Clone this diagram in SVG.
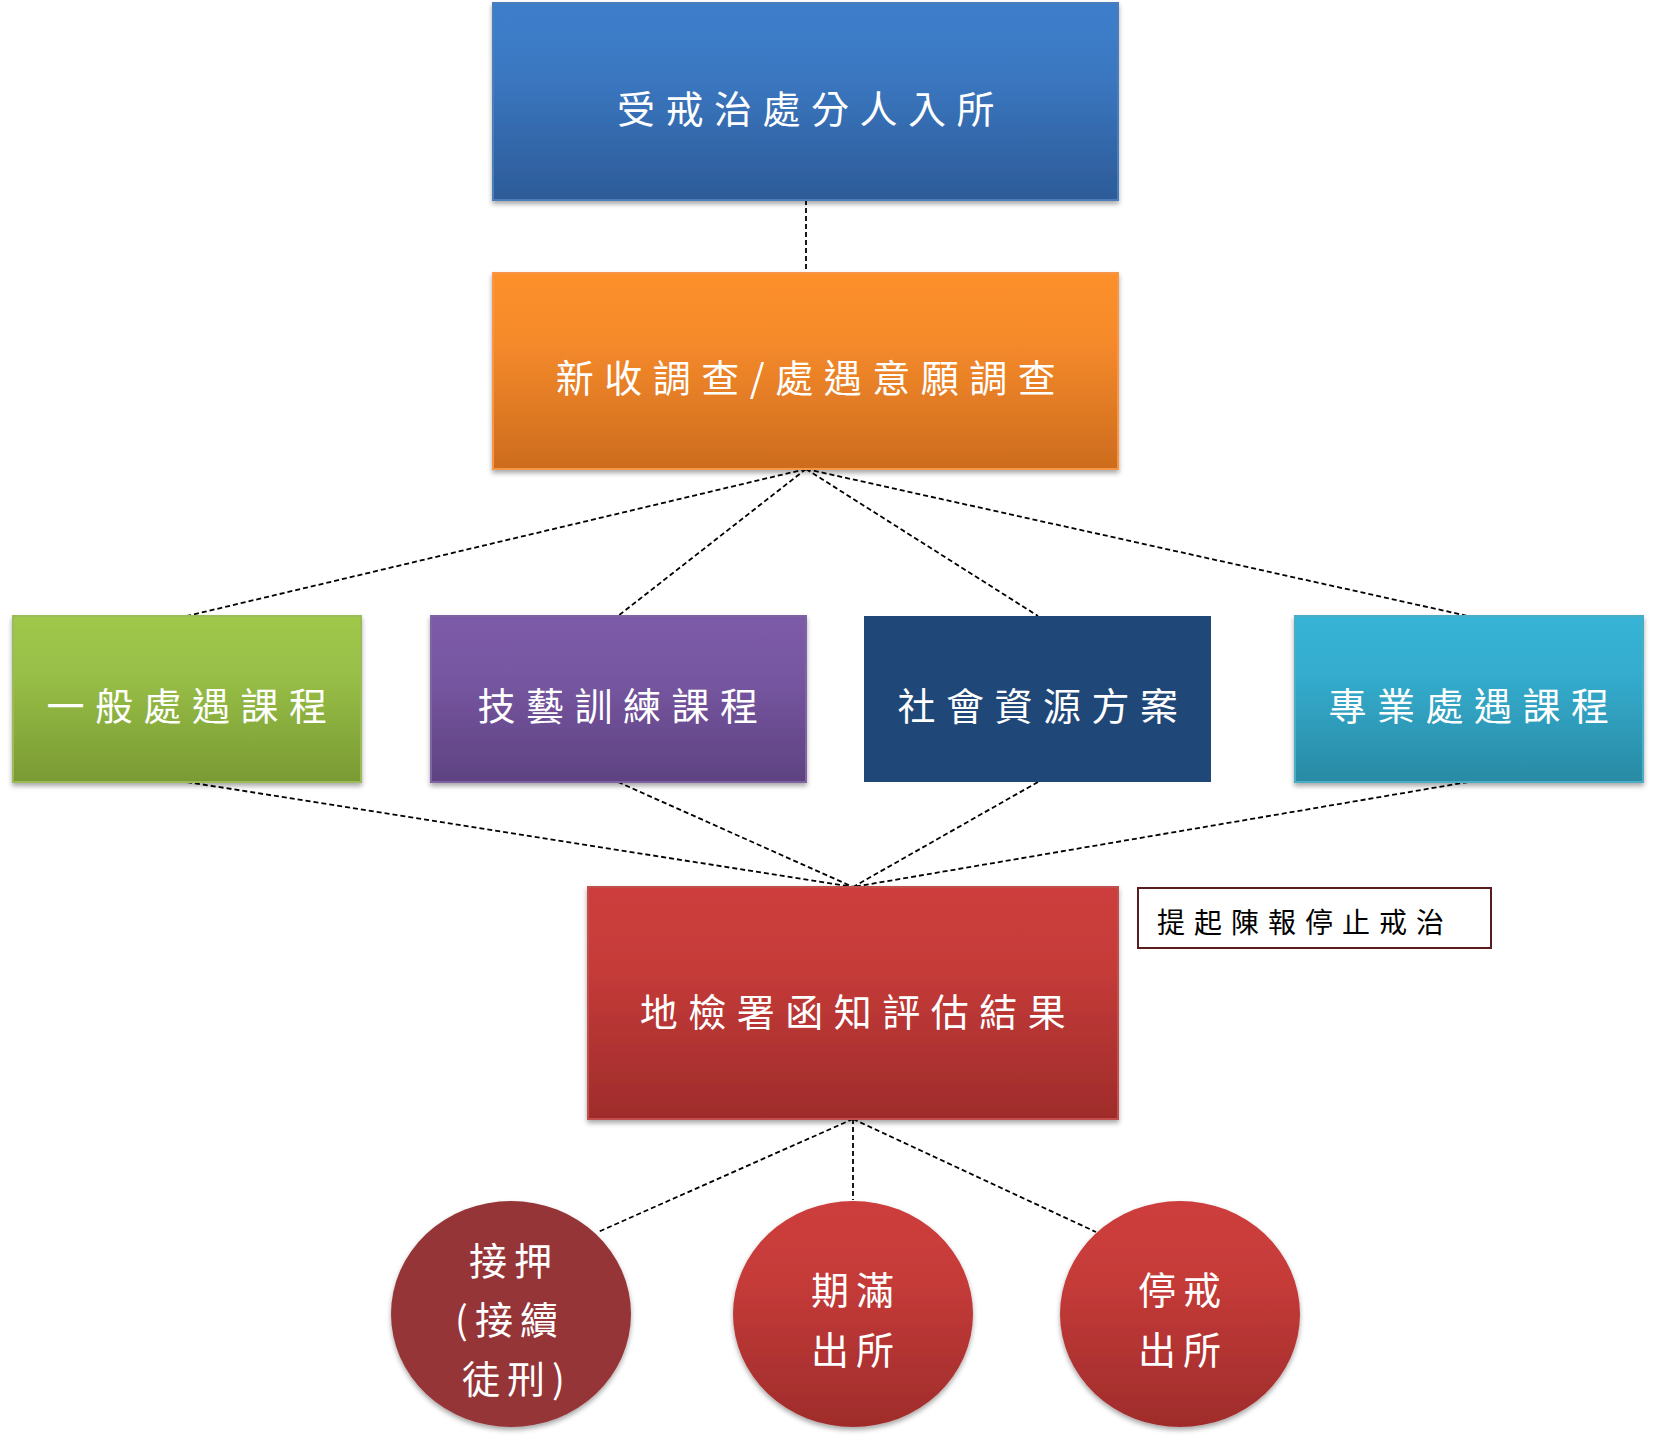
<svg xmlns="http://www.w3.org/2000/svg" width="1657" height="1444" viewBox="0 0 1657 1444">
<defs>
<linearGradient id="gBlue" x1="0" y1="0" x2="0" y2="1"><stop offset="0" stop-color="#3d7ecb"/><stop offset="0.35" stop-color="#3b78c2"/><stop offset="1" stop-color="#2d5b98"/></linearGradient>
<linearGradient id="gOrange" x1="0" y1="0" x2="0" y2="1"><stop offset="0" stop-color="#fd902c"/><stop offset="0.35" stop-color="#f58a2b"/><stop offset="1" stop-color="#cd6c1e"/></linearGradient>
<linearGradient id="gGreen" x1="0" y1="0" x2="0" y2="1"><stop offset="0" stop-color="#9fc84b"/><stop offset="0.35" stop-color="#98bf47"/><stop offset="1" stop-color="#799a33"/></linearGradient>
<linearGradient id="gPurple" x1="0" y1="0" x2="0" y2="1"><stop offset="0" stop-color="#7c5ba8"/><stop offset="0.35" stop-color="#7757a2"/><stop offset="1" stop-color="#5e4281"/></linearGradient>
<linearGradient id="gTeal" x1="0" y1="0" x2="0" y2="1"><stop offset="0" stop-color="#37b4d6"/><stop offset="0.35" stop-color="#34acce"/><stop offset="1" stop-color="#298aa4"/></linearGradient>
<linearGradient id="gRed" x1="0" y1="0" x2="0" y2="1"><stop offset="0" stop-color="#cd3e3c"/><stop offset="0.35" stop-color="#c53b39"/><stop offset="1" stop-color="#9f2c2b"/></linearGradient>
<filter id="shadow" x="-5%" y="-5%" width="110%" height="115%"><feDropShadow dx="0" dy="3" stdDeviation="2.5" flood-color="#000" flood-opacity="0.35"/></filter>
<style>
.lbl{font-family:"Noto Sans CJK TC","Noto Sans CJK SC",sans-serif;fill:#ffffff;font-size:38px;letter-spacing:10.5px;text-anchor:middle;dominant-baseline:central;}
.clbl{font-family:"Noto Sans CJK TC","Noto Sans CJK SC",sans-serif;fill:#ffffff;font-size:38px;letter-spacing:7px;text-anchor:middle;dominant-baseline:central;}
.note{font-family:"Noto Sans CJK TC","Noto Sans CJK SC",sans-serif;fill:#000000;font-size:28px;letter-spacing:9px;dominant-baseline:central;}
.conn{stroke:#000;stroke-width:1.8;stroke-dasharray:5 3;fill:none;}
</style>
</defs>
<rect width="1657" height="1444" fill="#ffffff"/>
<g id="connectors">
<line class="conn" x1="806" y1="200" x2="806" y2="273"/>
<line class="conn" x1="806" y1="469" x2="187" y2="616"/>
<line class="conn" x1="806" y1="469" x2="618" y2="616"/>
<line class="conn" x1="806" y1="469" x2="1038" y2="616"/>
<line class="conn" x1="806" y1="469" x2="1468" y2="616"/>
<line class="conn" x1="187" y1="782" x2="853" y2="887"/>
<line class="conn" x1="618" y1="782" x2="853" y2="887"/>
<line class="conn" x1="1038" y1="782" x2="853" y2="887"/>
<line class="conn" x1="1468" y1="782" x2="853" y2="887"/>
<line class="conn" x1="853" y1="1119" x2="598" y2="1232"/>
<line class="conn" x1="853" y1="1119" x2="853" y2="1200"/>
<line class="conn" x1="853" y1="1119" x2="1096" y2="1232"/>
</g>
<g id="node-entry">
<rect x="493" y="3" width="625" height="197" fill="url(#gBlue)" stroke="#4a7ebb" stroke-width="2" filter="url(#shadow)"/>
<text class="lbl" x="811" y="106">受戒治處分人入所</text>
</g>
<g id="node-survey">
<rect x="493" y="273" width="625" height="196" fill="url(#gOrange)" stroke="#f79646" stroke-width="2" filter="url(#shadow)"/>
<text class="lbl" x="811" y="375">新收調查/處遇意願調查</text>
</g>
<g id="node-general">
<rect x="13" y="616" width="348" height="166" fill="url(#gGreen)" stroke="#9bbb59" stroke-width="2" filter="url(#shadow)"/>
<text class="lbl" x="192" y="703">一般處遇課程</text>
</g>
<g id="node-skill">
<rect x="431" y="616" width="375" height="166" fill="url(#gPurple)" stroke="#8064a2" stroke-width="2" filter="url(#shadow)"/>
<text class="lbl" x="623" y="703">技藝訓練課程</text>
</g>
<g id="node-social">
<rect x="864" y="616" width="347" height="166" fill="#1f4778"/>
<text class="lbl" x="1043" y="703">社會資源方案</text>
</g>
<g id="node-professional">
<rect x="1295" y="616" width="348" height="166" fill="url(#gTeal)" stroke="#4bacc6" stroke-width="2" filter="url(#shadow)"/>
<text class="lbl" x="1474" y="703">專業處遇課程</text>
</g>
<g id="node-result">
<rect x="588" y="887" width="530" height="232" fill="url(#gRed)" stroke="#c0504d" stroke-width="2" filter="url(#shadow)"/>
<text class="lbl" x="858" y="1009">地檢署函知評估結果</text>
</g>
<g id="node-note">
<rect x="1138" y="888" width="353" height="60" fill="#ffffff" stroke="#5a1d1d" stroke-width="2"/>
<text class="note" x="1157" y="921">提起陳報停止戒治</text>
</g>
<g id="node-detain">
<ellipse cx="511" cy="1314" rx="120" ry="113" fill="#953637" filter="url(#shadow)"/>
<text class="clbl" x="514" y="1258">接押</text>
<text class="clbl" x="510" y="1317">(接續</text>
<text class="clbl" x="517" y="1376">徒刑)</text>
</g>
<g id="node-expire">
<ellipse cx="853" cy="1314" rx="120" ry="113" fill="url(#gRed)" filter="url(#shadow)"/>
<text class="clbl" x="856" y="1287">期滿</text>
<text class="clbl" x="856" y="1347">出所</text>
</g>
<g id="node-stop">
<ellipse cx="1180" cy="1314" rx="120" ry="113" fill="url(#gRed)" filter="url(#shadow)"/>
<text class="clbl" x="1183" y="1287">停戒</text>
<text class="clbl" x="1183" y="1347">出所</text>
</g>
</svg>
